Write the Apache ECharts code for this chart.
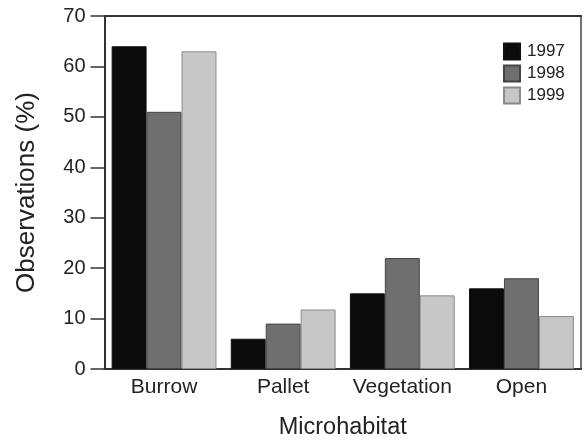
<!DOCTYPE html>
<html>
<head>
<meta charset="utf-8">
<script src="https://cdn.jsdelivr.net/npm/echarts@6/dist/echarts.min.js"></script>
<style>
html,body{margin:0;padding:0;background:#fff;}
#chart{width:584px;height:445px;}
</style>
</head>
<body>
<div id="chart"></div>
<script>
const categories = ['Burrow', 'Pallet', 'Vegetation', 'Open'];
const seriesNames = ['1997', '1998', '1999'];
const values1997 = [64, 6, 15, 16];
const values1998 = [51, 9, 22, 18];
const values1999 = [63, 11.8, 14.6, 10.5];
const yTicks = [0, 10, 20, 30, 40, 50, 60, 70];

const colors = ['#0b0b0b', '#6f6f6f', '#c7c7c7'];
const borders = ['#111', '#444', '#8a8a8a'];
const font = "'Liberation Sans', Arial, Helvetica, sans-serif";
const allValues = [values1997, values1998, values1999];

const chart = echarts.init(document.getElementById('chart'), null, {renderer: 'canvas'});
chart.setOption({
  animation: false,
  backgroundColor: '#fff',
  textStyle: {fontFamily: font},
  grid: {left: 104.5, right: 3, top: 16, bottom: 75, containLabel: false},
  legend: {
    orient: 'vertical',
    left: 503, top: 42.5,
    padding: 0,
    itemWidth: 16, itemHeight: 16, itemGap: 4,
    icon: 'rect',
    data: seriesNames,
    textStyle: {fontSize: 17, color: '#222', fontFamily: font, padding: [0, 0, 0, 2]}
  },
  xAxis: [{
    type: 'category',
    data: categories,
    position: 'bottom',
    name: 'Microhabitat',
    nameLocation: 'middle',
    nameGap: 47,
    nameTextStyle: {fontSize: 23.5, color: '#222', fontFamily: font},
    axisLine: {show: true, onZero: false, lineStyle: {color: '#333', width: 2}},
    axisTick: {show: false},
    axisLabel: {interval: 0, fontSize: 21, color: '#222', margin: 8, fontFamily: font},
    splitLine: {show: false}
  }, {
    type: 'category',
    data: categories,
    position: 'top',
    axisLine: {show: true, onZero: false, lineStyle: {color: '#333', width: 2}},
    axisTick: {show: false},
    axisLabel: {show: false},
    splitLine: {show: false}
  }],
  yAxis: [{
    type: 'value',
    min: yTicks[0],
    max: yTicks[yTicks.length - 1],
    interval: 10,
    name: 'Observations (%)',
    nameLocation: 'middle',
    nameGap: 65,
    nameTextStyle: {fontSize: 26, color: '#222', fontFamily: font},
    axisLine: {show: true, onZero: false, lineStyle: {color: '#333', width: 2}},
    axisTick: {show: true, length: 14, inside: false, lineStyle: {color: '#333', width: 1.5}},
    axisLabel: {fontSize: 20, color: '#222', margin: 19, fontFamily: font},
    splitLine: {show: false}
  }, {
    type: 'value',
    position: 'right',
    min: yTicks[0],
    max: yTicks[yTicks.length - 1],
    interval: 10,
    axisLine: {show: true, onZero: false, lineStyle: {color: '#444', width: 1.5}},
    axisTick: {show: false},
    axisLabel: {show: false},
    splitLine: {show: false}
  }],
  series: seriesNames.map((name, i) => ({
    name: name,
    type: 'bar',
    data: allValues[i],
    barGap: '0%',
    barCategoryGap: '12%',
    itemStyle: {color: colors[i], borderColor: borders[i], borderWidth: 1}
  }))
});
</script>
</body>
</html>
